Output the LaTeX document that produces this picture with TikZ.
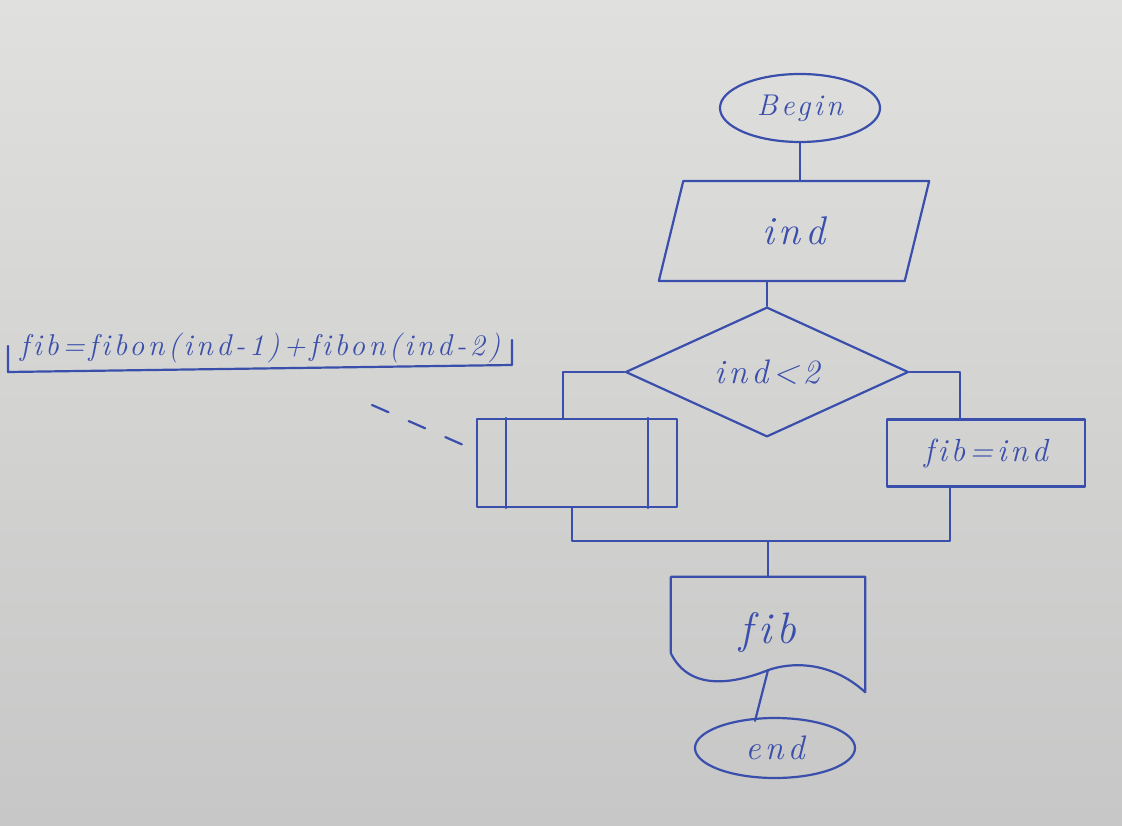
\documentclass[tikz,border=0pt]{standalone}
\usepackage{fontspec}
\newfontfamily\hand{Latin Modern Roman}[LetterSpace=12,Ligatures={NoCommon}]
\usetikzlibrary{shapes.geometric,calc}
\definecolor{ink}{RGB}{58,78,172}
\definecolor{paperA}{RGB}{224,224,222}
\definecolor{paperB}{RGB}{198,199,198}
\begin{document}
\begin{tikzpicture}[x=1pt,y=-1pt,
  inkline/.style={draw=ink,line width=2.2pt,line join=round,line cap=round},
  lbl/.style={text=ink,font=\hand\itshape\fontsize{#1}{#1}\selectfont},
  lbl/.default=34,
  term/.style={inkline,ellipse,inner sep=0pt}]
\useasboundingbox (0,0) rectangle (1122,826);
\shade[top color=paperA,bottom color=paperB] (0,0) rectangle (1122,826);

% nodes
\node[term,lbl=30,minimum width=160,minimum height=68] (begin) at (800,108) {Begin};
\node[inkline,lbl=40,trapezium,trapezium left angle=76,trapezium right angle=104,
      trapezium stretches=true,minimum width=272,minimum height=100,inner sep=0pt] (inp) at (794,231) {ind};
\node[inkline,lbl=34,diamond,minimum width=283,minimum height=118,inner sep=0pt] (dec) at (767,372) {ind<2};
\node[inkline,rectangle,minimum width=200,minimum height=88] (pred) at (577,463) {};
\draw[inkline] ($(pred.north west)+(30,0)$) -- ($(pred.south west)+(30,0)$);
\draw[inkline] ($(pred.north east)+(-30,0)$) -- ($(pred.south east)+(-30,0)$);
\node[inkline,lbl=32,rectangle,minimum width=198,minimum height=67] (asg) at (986,453) {fib=ind};
\node[lbl=44,minimum width=194,minimum height=76,inner sep=0pt,text height=56pt,text depth=0pt] (out) at (768,615) {fib};
\draw[inkline] (out.south west) -- (out.north west) -- (out.north east)
  -- ($(out.south east)+(0,39)$)
  .. controls ($(out.south)+(62,7)$) and ($(out.south)+(22,9)$) .. ($(out.south)+(0,17)$)
  .. controls ($(out.south)+(-33,30)$) and ($(out.south)+(-78,39)$) .. (out.south west);
\coordinate (wv) at ($(out.south)+(0,17)$);
\node[term,lbl=34,minimum width=160,minimum height=60] (stop) at (775,748) {end};

% annotation
\node[lbl=30,anchor=west,inner sep=0pt] (note) at (20,348) {fib=fibon(ind-1)+fibon(ind-2)};
\draw[inkline] (8,346) -- (8,372) -- (512,365) -- (512,340);
\coordinate (cm) at (372,405);
\draw[inkline,dash pattern=on 18pt off 22pt] (cm) -- ($(pred.west)+(-8,-16)$);

% connectors
\draw[inkline] (begin.south) -- (begin.south |- inp.north);
\draw[inkline] (dec.north |- inp.south) -- (dec.north);
\draw[inkline] (dec.west) -| ($(pred.north)+(-14,0)$);
\draw[inkline] (dec.east) -| ($(asg.north)+(-26,0)$);
\coordinate (join) at (out.north |- 0,541);
\draw[inkline] ($(pred.south)+(-5,0)$) |- (join);
\draw[inkline] ($(asg.south)+(-36,0)$) |- (join);
\draw[inkline] (join) -- (out.north);
\draw[inkline] (wv) -- ($(stop.north)+(-20,4)$);
\end{tikzpicture}
\end{document}
